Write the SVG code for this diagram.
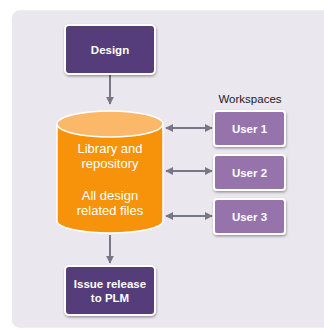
<svg xmlns="http://www.w3.org/2000/svg" width="324" height="330" viewBox="0 0 324 330">
<style>
.box{stroke:#fff;stroke-width:2;filter:url(#sh)}
.dk{fill:#553e7b}
.us{fill:#9673ab}
.bt{font-family:"Liberation Sans",Arial,sans-serif;font-weight:bold;font-size:11.5px;fill:#fff;text-anchor:middle}
.ct{font-family:"Liberation Sans",Arial,sans-serif;font-size:13px;fill:#fff;text-anchor:middle}
.lb{font-family:"Liberation Sans",Arial,sans-serif;font-size:11.5px;fill:#222;text-anchor:middle}
.cn{stroke:#777787;stroke-width:2;fill:none}
</style>
<defs>
<filter id="sh" x="-20%" y="-20%" width="140%" height="150%">
<feDropShadow dx="0.5" dy="1.5" stdDeviation="1.2" flood-color="#000" flood-opacity="0.35"/>
</filter>
<marker id="ah" viewBox="0 0 10 10" refX="9" refY="5" markerWidth="4" markerHeight="4" orient="auto-start-reverse" markerUnits="strokeWidth">
<path d="M0,0 L10,5 L0,10 z" fill="#777787"/>
</marker>
</defs>
<rect x="11" y="9.5" width="330" height="319" rx="9" fill="#ebe7ee" stroke="#fff" stroke-width="1.5"/>
<text class="lb" x="250" y="103">Workspaces</text>
<g id="connectors">
<line class="cn" x1="110" y1="75" x2="110" y2="104" marker-end="url(#ah)"/>
<line class="cn" x1="110" y1="235" x2="110" y2="263" marker-end="url(#ah)"/>
<line class="cn" x1="166" y1="128" x2="212" y2="128" marker-start="url(#ah)" marker-end="url(#ah)"/>
<line class="cn" x1="166" y1="171" x2="212" y2="171" marker-start="url(#ah)" marker-end="url(#ah)"/>
<line class="cn" x1="166" y1="216" x2="212" y2="216" marker-start="url(#ah)" marker-end="url(#ah)"/>
</g>
<g id="design">
<rect class="box dk" x="65" y="25" width="90" height="49" rx="4"/>
<text class="bt" x="110" y="54">Design</text>
</g>
<g id="library">
<path d="M57,124 L57,221 A53,12 0 0 0 163,221 L163,124 Z" fill="#f7930b" stroke="#fff" stroke-width="1.5"/>
<ellipse cx="110" cy="124" rx="53" ry="13" fill="#fab868" stroke="#fff" stroke-width="1.5"/>
<text class="ct" x="110" y="153">Library and</text>
<text class="ct" x="110" y="168">repository</text>
<text class="ct" x="110" y="200">All design</text>
<text class="ct" x="110" y="215">related files</text>
</g>
<g id="issue">
<rect class="box dk" x="65" y="266" width="90" height="49" rx="4"/>
<text class="bt" x="110" y="288">Issue release</text>
<text class="bt" x="110" y="302">to PLM</text>
</g>
<g id="user1">
<rect class="box us" x="214" y="111" width="71" height="35" rx="3"/>
<text class="bt" x="249.5" y="132.5">User 1</text>
</g>
<g id="user2">
<rect class="box us" x="214" y="155" width="71" height="35" rx="3"/>
<text class="bt" x="249.5" y="176.5">User 2</text>
</g>
<g id="user3">
<rect class="box us" x="214" y="199" width="71" height="35" rx="3"/>
<text class="bt" x="249.5" y="220.5">User 3</text>
</g>
</svg>
